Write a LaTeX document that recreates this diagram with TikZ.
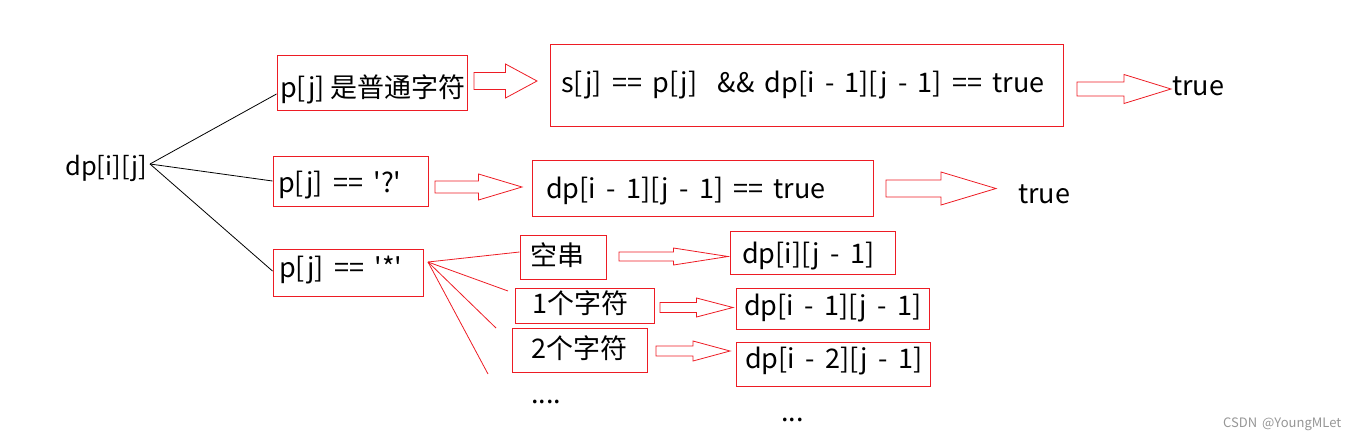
\documentclass[tikz,border=0pt]{standalone}
\usepackage{fontspec}
\newfontfamily\cn[WordSpace=1.7]{Noto Sans CJK SC}
\definecolor{pred}{RGB}{237,28,36}
\definecolor{wm}{RGB}{150,150,150}
\tikzset{
  box/.style={draw=pred, line width=1pt, inner sep=0pt},
  txt/.style={font=\cn\fontsize{27}{30}\selectfont, inner sep=0pt, anchor=base west},
  redl/.style={draw=pred, line width=0.8pt, line join=miter},
  blk/.style={draw=black, line width=0.8pt},
}
\newcommand\blockarrow[5]{%
  \pgfmathsetmacro\bamid{(#1+#2)/2}%
  \draw[redl] (#1,{#3-#4}) -- (\bamid,{#3-#4}) -- (\bamid,{#3-#5}) -- (#2,#3)
    -- (\bamid,{#3+#5}) -- (\bamid,{#3+#4}) -- (#1,{#3+#4}) -- cycle;}
\begin{document}
\begin{tikzpicture}[x=1pt,y=-1pt]
\useasboundingbox (0,0) rectangle (1366,440);

% boxes
\node[box, minimum width=190pt, minimum height=55pt] (b1) at (372,82.5) {};
\node[box, minimum width=513pt, minimum height=82pt] (b2) at (806.5,85) {};
\node[box, minimum width=155pt, minimum height=50pt] (bq) at (350.5,181) {};
\node[box, minimum width=341pt, minimum height=56pt] (bq2) at (702.5,188) {};
\node[box, minimum width=150pt, minimum height=47pt] (bs) at (348,272.5) {};
\node[box, minimum width=86pt, minimum height=44pt] (e0) at (563,257) {};
\node[box, minimum width=165pt, minimum height=43pt] (r0) at (812.5,252.5) {};
\node[box, minimum width=139pt, minimum height=35pt] (e1) at (584.5,305.5) {};
\node[box, minimum width=193pt, minimum height=41pt] (r1) at (832.5,308.5) {};
\node[box, minimum width=135pt, minimum height=44pt] (e2) at (579.5,350) {};
\node[box, minimum width=194pt, minimum height=44pt] (r2) at (833,364) {};

% texts
\node[txt, font=\cn\fontsize{25.5}{28}\selectfont] (dp) at (65,175) {dp[i][j]};
\node[txt] (t1) at (280,97) {p[j]\hspace{5pt}是普通字符};
\node[txt] (t2) at (561,92) {s[j] == p[j]\ \ \&\& dp[i - 1][j - 1] == true};
\node[txt] (true1) at (1172,95) {true};
\node[txt] (tq) at (278,192) {p[j] == \textquotesingle?\textquotesingle};
\node[txt] (tq2) at (546,198) {dp[i - 1][j - 1] == true};
\node[txt] (true2) at (1018,203) {true};
\node[txt] (ts) at (279,277) {p[j] == \textquotesingle*\textquotesingle};
\node[txt] (te0) at (530,265) {空串};
\node[txt] (tr0) at (742,263) {dp[i][j - 1]};
\node[txt] (te1) at (532,313) {1个字符};
\node[txt] (tr1) at (744,315) {dp[i - 1][j - 1]};
\node[txt] (te2) at (531,358) {2个字符};
\node[txt] (tr2) at (745,368) {dp[i - 2][j - 1]};
\node[txt] (dots1) at (531,403) {....};
\node[txt] (dots2) at (781,421) {...};
\node[font=\cn\fontsize{13}{15}\selectfont, text=wm, inner sep=0pt, anchor=base west] (wmk) at (1223,427) {CSDN @YoungMLet};

% black fan from dp[i][j]
\coordinate (fan) at (150,164);
\draw[blk] (fan) -- ([yshift=-11.5pt]b1.west);
\draw[blk] (fan) -- (bq.west);
\draw[blk] (fan) -- ([yshift=1.5pt]bs.west);

% red fan from p[j]=='*'
\coordinate (sfan) at (428,262);
\coordinate (f1) at (508,291);
\coordinate (f2) at (496,328);
\coordinate (f3) at (488,374);
\draw[redl] (sfan) -- ([yshift=5pt]e0.west);
\draw[redl] (sfan) -- (f1);
\draw[redl] (sfan) -- (f2);
\draw[redl] (sfan) -- (f3);

% block arrows
\blockarrow{474}{537}{81}{8.5}{17}
\blockarrow{1077}{1171}{89}{7}{14.5}
\blockarrow{435}{522}{187}{6}{13}
\blockarrow{886}{996}{188.5}{8.5}{16.5}
\blockarrow{619}{728}{256.5}{4.5}{8.5}
\blockarrow{660}{733}{307.5}{5}{9.5}
\blockarrow{656}{730}{351}{5}{10}
\end{tikzpicture}
\end{document}
